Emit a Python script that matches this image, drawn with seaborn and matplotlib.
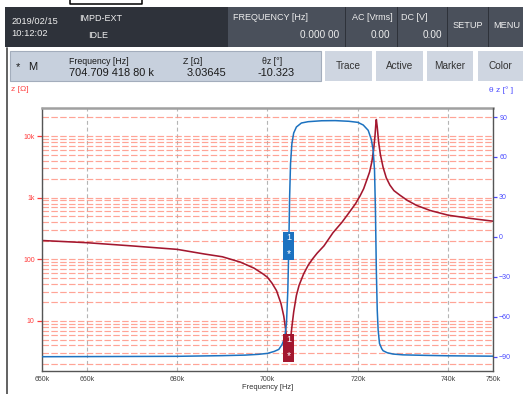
import matplotlib
matplotlib.use("Agg")
from matplotlib import pyplot as plt
from matplotlib import ticker, transforms
from matplotlib.patches import Rectangle
from matplotlib.lines import Line2D
import seaborn as sns

# |Z| trace (kHz, ohm)
z_freq = [650, 660, 670, 680, 686, 690, 694, 697, 699, 700, 701, 702, 703,
          703.6, 704.0, 704.3, 704.5, 704.7, 704.9, 705.1, 705.4, 705.8, 706.4,
          707, 708, 709, 710, 711, 712.5, 714.5, 716.5, 718.2, 719.5, 720.5,
          721.3, 722, 722.6, 723.1, 723.5, 723.8, 724.0, 724.1, 724.3, 724.6,
          725, 725.6, 726.3, 727.1, 728, 729.3, 731, 733, 736, 740, 745, 750]
z_mag = [202, 186, 165, 145, 122, 110, 90, 72, 58, 51, 41, 31, 19,
         12, 7.5, 4.8, 3.5, 3.04, 3.6, 5.0, 8.0, 14, 26,
         38, 58, 80, 102, 126, 165, 270, 400, 590, 800, 1070,
         1400, 1950, 2600, 3800, 6000, 10000, 16000, 18500, 14000, 8000,
         5000, 3100, 2100, 1600, 1300, 1100, 900, 750, 620, 520, 460, 415]

# phase trace (kHz, deg)
ph_freq = [650, 660, 680, 690, 695, 698, 700, 701.5, 702.5, 703.2, 703.8,
           704.2, 704.5, 704.7, 704.9, 705.1, 705.4, 705.8, 706.4, 707.5,
           709, 712, 715, 718, 720, 721.2, 722.3, 723.0, 723.4, 723.7, 723.9,
           724.1, 724.3, 724.5, 724.8, 725.3, 725.6, 726.5, 727.8, 730, 735,
           740, 750]
ph_deg = [-90.0, -89.9, -89.7, -89.2, -88.8, -88.2, -87.5, -86, -84.5, -81, -76,
          -65, -40, -10.3, 30, 55, 70, 78, 82.5, 85.5,
          86.5, 87.2, 87.3, 86.8, 86, 84, 80, 73, 65, 50, 20,
          -25, -55, -70, -80, -84, -85.5, -87, -88, -88.6, -89,
          -89.3, -89.6]

x_ticks = [650, 660, 680, 700, 720, 740, 750]
z_ticks = [10, 100, 1000, 10000]
z_tick_labels = ['10', '100', '1k', '10k']
ph_ticks = [-90, -60, -30, 0, 30, 60, 90]

mk_freq = 704.7094188
mk_z = 3.03645
mk_ph = -10.323

RED = '#a3172f'
BLUE = '#1c72c0'
W, H = 523, 394

sns.set_theme(style="white")
plt.rcParams['font.family'] = ['Liberation Sans', 'DejaVu Sans']
fig = plt.figure(figsize=(W / 100, H / 100), dpi=100)
fig.patch.set_facecolor('white')


def rect(x0, y0, x1, y1, fc, ec='none', lw=0):
    fig.patches.append(Rectangle((x0 / W, 1 - y1 / H), (x1 - x0) / W, (y1 - y0) / H,
                                 transform=fig.transFigure, fc=fc, ec=ec, lw=lw, zorder=0))


def label(x, y, s, size=6.6, color='#eeeeee', ha='left', **kw):
    fig.text(x / W, 1 - y / H, s, fontsize=size, color=color, ha=ha, va='center', **kw)


def line(xs, ys, color, lw):
    fig.add_artist(Line2D([x / W for x in xs], [1 - y / H for y in ys],
                          transform=fig.transFigure, color=color, lw=lw))


# edge of a box from the page above the screenshot
line([70, 70, 141.7, 141.7], [-1, 4, 4, -1], 'black', 1.1)

# top status bar
rect(4.5, 7.3, 523, 46.7, '#2e323a')
for x0, x1 in [(228, 344.5), (346, 396.5), (398, 446.5), (448, 487.5), (489, 523)]:
    rect(x0, 7.3, x1, 46.7, '#4a505b')
label(11.7, 21.5, '2019/02/15', 6.7)
label(11.7, 33.5, '10:12:02', 6.7)
label(79, 18.5, 'IMPD-EXT', 6.5)
label(88.3, 36, 'IDLE', 6.5)
label(233, 17, 'FREQUENCY [Hz]', 6.5)
label(339.3, 35, '0.000 00', 7.2, ha='right')
label(352, 17, 'AC [Vrms]', 6.5)
label(390.3, 35, '0.00', 7.2, ha='right')
label(401.3, 17, 'DC [V]', 6.5)
label(442, 35, '0.00', 7.2, ha='right')
label(467.5, 26, 'SETUP', 6.6, ha='center')
label(506.5, 26, 'MENU', 6.6, ha='center')

# marker readout row
rect(10, 51.3, 320.7, 81.3, '#c7d0dd', ec='#a3adbc', lw=0.8)
for x0, x1, s in [(325, 371.7, 'Trace'), (376, 422.7, 'Active'),
                  (426.7, 473.3, 'Marker'), (478.3, 523, 'Color')]:
    rect(x0, 51.3, x1, 81.3, '#cfd6e1')
    label((x0 + x1) / 2, 66.3, s, 7.2, '#333333', ha='center')
label(15.5, 67.3, '*', 8, '#1a1a1a')
label(27.7, 67.3, 'M', 8, '#1a1a1a')
label(69.3, 61.3, 'Frequency [Hz]', 6.3, '#1a1a1a')
label(69.3, 73, '704.709 418 80 k', 7.9, '#1a1a1a')
label(183.3, 61.3, 'Z [Ω]', 6.3, '#1a1a1a')
label(186.7, 73, '3.03645', 7.9, '#1a1a1a')
label(262.3, 61.3, 'θz [°]', 6.3, '#1a1a1a')
label(257.7, 73, '-10.323', 7.9, '#1a1a1a')
label(10.7, 89.7, 'z [Ω]', 6, '#ff4545')
label(513.3, 89.7, 'θ z [° ]', 6, '#4a4aff', ha='right')
line([6.7, 6.7], [48, 395], '#555555', 1.3)

# chart
ax = fig.add_axes([41.7 / W, 1 - 370.7 / H, (493.3 - 41.7) / W, (370.7 - 107.7) / H])
ax.set_yscale('log')
ax2 = ax.twinx()

sns.lineplot(x=z_freq, y=z_mag, ax=ax, color=RED, lw=1.15)
sns.lineplot(x=ph_freq, y=ph_deg, ax=ax2, color=BLUE, lw=1.1)

ax.set_xlim(650, 750)
ax.set_ylim(1.56, 28800)
ax2.set_ylim(-100.5, 97)

ax.set_xticks(x_ticks, labels=[f'{v}k' for v in x_ticks])
ax.set_yticks(z_ticks, labels=z_tick_labels)
ax.yaxis.set_minor_locator(ticker.LogLocator(base=10, subs=range(2, 10)))
ax.yaxis.set_minor_formatter(ticker.NullFormatter())
ax2.set_yticks(ph_ticks)

ax.grid(False)
ax2.grid(False)
ax.yaxis.grid(True, which='both', color='#ff9484', ls=(0, (5.5, 2)), lw=0.85, alpha=0.85)
ax.xaxis.grid(True, color='#b5b5b5', ls=(0, (3.5, 2.5)), lw=0.8)

ax.tick_params(axis='y', which='major', left=True, colors='#ff3b3b', length=3.6,
               width=0.9, pad=1.5, labelsize=5)
ax.tick_params(axis='y', which='minor', left=False, length=0)
ax.tick_params(axis='x', bottom=False, length=0, pad=3.5, labelsize=5,
               labelcolor='#404040')
ax2.tick_params(axis='y', right=True, colors='#4a4aff', length=3, width=0.9,
                pad=1.2, labelsize=5)

for s in ['left', 'bottom']:
    ax.spines[s].set_color('#555555')
    ax.spines[s].set_linewidth(1.0)
ax.spines['top'].set_color('#a0a0a0')
ax.spines['top'].set_linewidth(1.8)
ax.spines['right'].set_visible(False)
for s in ['left', 'bottom', 'top']:
    ax2.spines[s].set_visible(False)
ax2.spines['right'].set_color('#555555')
ax2.spines['right'].set_linewidth(1.0)
ax.set_ylabel('')
ax2.set_ylabel('')
ax.set_xlabel('Frequency [Hz]', fontsize=5.4, color='#303030', labelpad=1.0)


# marker flags, sized in inches around the marker point
def flag(axis, f, v, color):
    tr = fig.dpi_scale_trans + transforms.ScaledTranslation(f, v, axis.transData)
    fig.add_artist(Rectangle((-0.062, -0.09), 0.116, 0.28, transform=tr,
                             fc=color, ec='none', zorder=3))
    fig.add_artist(plt.Text(-0.004, 0.11, '1', transform=tr, color='white',
                            fontsize=6.5, ha='center', va='baseline', zorder=4))
    fig.add_artist(plt.Text(-0.004, -0.06, '*', transform=tr, color='white',
                            fontsize=7.5, ha='center', va='baseline', zorder=4))


flag(ax2, mk_freq, mk_ph, BLUE)
flag(ax, mk_freq, mk_z, RED)

fig.savefig('out.png', dpi=100)
